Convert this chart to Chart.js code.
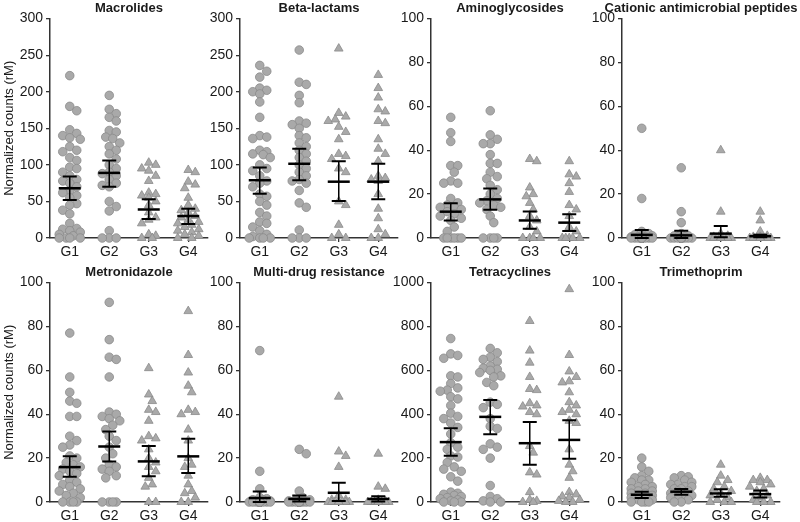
<!DOCTYPE html>
<html lang="en">
<head>
<meta charset="UTF-8">
<title>Normalized counts by resistance class</title>
<script src="https://cdn.jsdelivr.net/npm/chart.js@4"></script>
<style>
  body { margin: 0; width: 800px; height: 522px; overflow: hidden; background: #fff; position: relative; }
  canvas { position: absolute; }
</style>
</head>
<body>
<canvas id="c0" width="228" height="264" style="left:0px;top:0px"></canvas>
<canvas id="c1" width="228" height="264" style="left:190px;top:0px"></canvas>
<canvas id="c2" width="228" height="264" style="left:381px;top:0px"></canvas>
<canvas id="c3" width="228" height="264" style="left:572px;top:0px"></canvas>
<canvas id="c4" width="228" height="264" style="left:0px;top:264px"></canvas>
<canvas id="c5" width="228" height="264" style="left:190px;top:264px"></canvas>
<canvas id="c6" width="228" height="264" style="left:381px;top:264px"></canvas>
<canvas id="c7" width="228" height="264" style="left:572px;top:264px"></canvas>
<script>
const groups = ['G1', 'G2', 'G3', 'G4'];
const titles = ['Macrolides', 'Beta-lactams', 'Aminoglycosides', 'Cationic antimicrobial peptides',
                'Metronidazole', 'Multi-drug resistance', 'Tetracyclines', 'Trimethoprim'];
const yMax = [300, 300, 100, 100, 100, 100, 1000, 100];
const yStep = [50, 50, 20, 20, 20, 20, 200, 20];

// per-sample values, one list per group (G1..G4)
const macrolides = [
  [222, 180, 174, 148, 143, 140, 137, 135, 125, 120, 118, 110, 106, 97, 95, 90, 85, 80, 78, 75, 70, 65, 62, 58, 55, 47, 45, 38, 33, 20, 13, 12, 10, 8, 5, 3, 0, 0, 0, 0],
  [195, 176, 170, 165, 160, 147, 145, 138, 136, 130, 125, 120, 115, 108, 100, 95, 90, 88, 85, 80, 75, 72, 70, 50, 43, 37, 10, 0, 0, 0],
  [103, 100, 95, 92, 85, 78, 62, 60, 58, 55, 50, 45, 35, 28, 25, 20, 5, 3, 0, 0],
  [93, 90, 77, 73, 68, 55, 45, 40, 38, 35, 30, 28, 25, 22, 20, 18, 15, 12, 10, 8, 5, 3, 0, 0]
];
const macrolidesMean = [68, 89, 39, 30];
const macrolidesLow = [52, 70, 26, 19];
const macrolidesHigh = [84, 106, 53, 40];

const betaLactams = [
  [236, 228, 220, 205, 202, 200, 197, 186, 165, 140, 138, 136, 120, 118, 115, 114, 110, 100, 95, 92, 85, 78, 75, 70, 60, 57, 50, 45, 35, 30, 22, 20, 15, 10, 5, 2, 0, 0, 0, 0],
  [257, 213, 210, 195, 185, 160, 157, 155, 150, 140, 137, 130, 125, 120, 115, 110, 105, 100, 95, 90, 85, 80, 78, 75, 65, 48, 42, 11, 0, 0, 0],
  [259, 171, 166, 162, 160, 152, 145, 135, 115, 112, 108, 95, 90, 50, 45, 18, 5, 0, 0],
  [223, 205, 192, 176, 173, 160, 157, 135, 122, 115, 105, 85, 82, 80, 78, 60, 40, 27, 12, 5, 0, 0]
];
const betaLactamsMean = [79, 101.5, 77, 77];
const betaLactamsLow = [60.5, 79, 50.5, 53];
const betaLactamsHigh = [96.5, 122, 105, 101.5];

const aminoglycosides = [
  [55, 48, 44, 33, 33, 30, 26, 25, 25, 18, 16, 15, 14, 14, 13, 12, 11, 10, 9, 8, 5, 3, 0, 0, 0, 0, 0, 0],
  [58, 47, 45, 43, 43, 38, 34, 34, 30, 28, 27, 24, 22, 20, 18, 17, 16, 15, 14, 13, 10, 7, 0, 0, 0, 0],
  [36, 35, 23, 20, 19, 16, 13, 10, 8, 5, 3, 0, 0, 0, 0],
  [35, 29, 28, 25, 21, 15, 13, 10, 5, 3, 0, 0, 0, 0, 0]
];
const aminoglycosidesMean = [12, 17.6, 8, 7];
const aminoglycosidesLow = [8, 12.9, 4.2, 3.2];
const aminoglycosidesHigh = [15.8, 22.6, 12.1, 10.8];

const cationic = [
  [50, 18, 3, 2, 1.5, 1, 1, 0.5, 0.5, 0.5, 0, 0, 0, 0, 0, 0, 0, 0, 0, 0, 0, 0, 0, 0, 0, 0, 0, 0, 0, 0, 0, 0, 0, 0, 0, 0],
  [32, 12, 7, 2, 1, 1, 0.5, 0.5, 0, 0, 0, 0, 0, 0, 0, 0, 0, 0, 0, 0, 0, 0, 0, 0, 0, 0, 0, 0],
  [40, 12, 2, 1, 0.5, 0, 0, 0, 0, 0, 0, 0, 0, 0, 0, 0, 0, 0],
  [12, 8, 3, 1, 0.5, 0.5, 0, 0, 0, 0, 0, 0, 0, 0, 0, 0, 0, 0, 0, 0]
];
const cationicMean = [1.4, 1.2, 2, 0.8];
const cationicLow = [0, 0, 0.3, 0.3];
const cationicHigh = [3.6, 3.3, 5.5, 1.5];

const metronidazole = [
  [77, 57, 50, 46, 45, 39, 39, 30, 28, 26, 25, 21, 20, 18, 17, 16, 15, 14, 13, 12, 10, 9, 8, 7, 6, 5, 4, 3, 2, 0, 0, 0, 0],
  [91, 74, 66, 65, 57, 41, 40, 39, 38, 37, 35, 33, 30, 28, 25, 22, 20, 17, 16, 15, 14, 12, 11, 0, 0, 0, 0],
  [61, 49, 46, 42, 41, 37, 30, 29, 28, 24, 20, 18, 16, 14, 11, 8, 7, 0, 0],
  [87, 67, 59, 53, 50, 42, 41, 40, 33, 28, 20, 17, 16, 12, 8, 5, 4, 2, 0, 0]
];
const metronidazoleMean = [15.9, 25.3, 18.5, 20.8];
const metronidazoleLow = [11.5, 18.5, 11.7, 13.2];
const metronidazoleHigh = [20.9, 32.1, 25.5, 28.8];

const multiDrug = [
  [69, 14, 6, 2, 1.5, 1, 1, 0.5, 0, 0, 0, 0, 0, 0, 0, 0, 0, 0, 0, 0, 0, 0, 0, 0, 0, 0, 0, 0, 0, 0, 0, 0, 0, 0, 0],
  [24, 22, 5, 2, 1, 1, 0.5, 0, 0, 0, 0, 0, 0, 0, 0, 0, 0, 0, 0, 0, 0, 0, 0, 0, 0, 0, 0],
  [48, 23, 21, 16, 3, 1, 1, 0, 0, 0, 0, 0, 0, 0, 0, 0, 0, 0],
  [22, 7, 6, 1, 0.5, 0, 0, 0, 0, 0, 0, 0, 0, 0, 0, 0, 0, 0, 0, 0]
];
const multiDrugMean = [1.8, 1.4, 4.2, 1.4];
const multiDrugLow = [0, 0.2, 0.5, 0.2];
const multiDrugHigh = [4.8, 3, 8.8, 2.6];

const tetracyclines = [
  [745, 675, 668, 655, 575, 570, 540, 520, 510, 505, 480, 470, 440, 405, 390, 380, 360, 340, 310, 270, 250, 240, 210, 205, 180, 160, 150, 140, 115, 95, 45, 40, 35, 30, 25, 20, 15, 10, 5, 0, 0, 0],
  [700, 680, 660, 650, 640, 620, 610, 605, 600, 590, 575, 570, 545, 530, 455, 445, 430, 380, 345, 335, 265, 250, 240, 200, 75, 25, 15, 5, 0, 0],
  [825, 690, 635, 570, 515, 510, 450, 440, 435, 410, 400, 255, 225, 135, 125, 45, 10, 5, 0, 0],
  [970, 670, 595, 570, 550, 545, 500, 455, 440, 420, 410, 400, 370, 360, 240, 170, 140, 110, 45, 35, 25, 20, 10, 5, 0, 0]
];
const tetracyclinesMean = [273, 388, 268, 283];
const tetracyclinesLow = [211, 309, 170, 197];
const tetracyclinesHigh = [336, 465, 365, 373];

const trimethoprim = [
  [20, 16, 14, 12, 11, 10, 10, 9, 8, 7, 7, 6, 6, 5, 5, 4, 4, 3, 3, 2, 2, 1, 1, 0, 0, 0, 0],
  [12, 11.5, 11, 10, 9, 8, 8, 7, 7, 6, 6, 5, 5, 4, 4, 3, 3, 2, 2, 1, 0, 0],
  [17, 12, 10, 9, 7, 6, 5, 4, 3, 2, 1, 0, 0, 0],
  [11, 10, 10, 9, 8, 7, 6, 5, 3, 2, 1, 0, 0, 0]
];
const trimethoprimMean = [3.3, 4.7, 3.9, 3.6];
const trimethoprimLow = [1.8, 3.3, 2.4, 2.1];
const trimethoprimHigh = [4.7, 5.9, 5.8, 5.2];

const panelValues = [macrolides, betaLactams, aminoglycosides, cationic, metronidazole, multiDrug, tetracyclines, trimethoprim];
const panelMean = [macrolidesMean, betaLactamsMean, aminoglycosidesMean, cationicMean, metronidazoleMean, multiDrugMean, tetracyclinesMean, trimethoprimMean];
const panelLow = [macrolidesLow, betaLactamsLow, aminoglycosidesLow, cationicLow, metronidazoleLow, multiDrugLow, tetracyclinesLow, trimethoprimLow];
const panelHigh = [macrolidesHigh, betaLactamsHigh, aminoglycosidesHigh, cationicHigh, metronidazoleHigh, multiDrugHigh, tetracyclinesHigh, trimethoprimHigh];

Chart.defaults.font.family = '"Liberation Sans", Arial, sans-serif';
Chart.defaults.color = '#1a1a1a';

const PLOT_W = 158, PLOT_H = 220;
const OFFSETS = [0, 3.5, -3.5, 7, -7, 10.5, -10.5];

// simple beeswarm: spread points sideways so they don't pile up
function swarm(vals, g, max) {
  const pxY = PLOT_H / max, pxX = PLOT_W / 4;
  const placed = [];
  return vals.map(v => {
    const py = v * pxY;
    let best = 0, bestD = -1;
    for (const off of OFFSETS) {
      let d = Infinity;
      for (const p of placed) d = Math.min(d, Math.hypot(p[0] - off, p[1] - py));
      if (d >= 7) { best = off; break; }
      if (d > bestD) { bestD = d; best = off; }
    }
    placed.push([best, py]);
    return { x: g + 1 + best / pxX, y: v };
  });
}

// mean line + CI whiskers
const errBars = {
  id: 'errbars',
  afterDatasetsDraw(chart, args, opts) {
    const { ctx, scales: { x, y } } = chart;
    ctx.save();
    ctx.strokeStyle = '#000';
    opts.mean.forEach((m, i) => {
      const cx = x.getPixelForValue(i + 1);
      const yl = y.getPixelForValue(opts.low[i]);
      const yh = y.getPixelForValue(opts.high[i]);
      const ym = y.getPixelForValue(m);
      ctx.lineWidth = 1.5;
      ctx.beginPath(); ctx.moveTo(cx, yl); ctx.lineTo(cx, yh); ctx.stroke();
      ctx.lineWidth = 2;
      ctx.beginPath();
      ctx.moveTo(cx - 7, yl); ctx.lineTo(cx + 7, yl);
      ctx.moveTo(cx - 7, yh); ctx.lineTo(cx + 7, yh);
      ctx.stroke();
      ctx.lineWidth = 2.5;
      ctx.beginPath(); ctx.moveTo(cx - 11, ym); ctx.lineTo(cx + 11, ym); ctx.stroke();
    });
    ctx.restore();
  }
};

// panel title centred over the plot area, allowed to run past it
const panelTitle = {
  id: 'panelTitle',
  afterDraw(chart, args, opts) {
    const { ctx, chartArea } = chart;
    ctx.save();
    ctx.font = 'bold 13px "Liberation Sans", Arial, sans-serif';
    ctx.fillStyle = '#1a1a1a';
    ctx.textAlign = 'center';
    ctx.textBaseline = 'middle';
    ctx.fillText(opts.text, (chartArea.left + chartArea.right) / 2, chartArea.top - 10.5);
    ctx.restore();
  }
};

titles.forEach((title, p) => {
  const datasets = panelValues[p].map((vals, g) => ({
    data: swarm(vals, g, yMax[p]),
    pointStyle: g < 2 ? 'circle' : 'triangle',
    pointRadius: g < 2 ? 4.3 : 5,
    backgroundColor: '#a9a9a9',
    borderColor: '#8a8a8a',
    borderWidth: 0.8,
    clip: false
  }));

  new Chart(document.getElementById('c' + p), {
    type: 'scatter',
    data: { datasets },
    options: {
      responsive: false,
      animation: false,
      events: [],
      layout: { padding: { left: 0, right: 20, top: 18.6, bottom: 0 } },
      plugins: {
        legend: { display: false },
        tooltip: { enabled: false },
        panelTitle: { text: title },
        errbars: { mean: panelMean[p], low: panelLow[p], high: panelHigh[p] }
      },
      scales: {
        x: {
          type: 'linear',
          min: 0.5,
          max: 4.5,
          afterBuildTicks: s => { s.ticks = groups.map((_, i) => ({ value: i + 1 })); },
          afterFit: s => { s.height = 26; },
          ticks: { callback: v => groups[v - 1], font: { size: 14 }, color: '#1a1a1a', padding: 2, maxRotation: 0 },
          grid: { drawOnChartArea: false, tickLength: 4, color: '#333', lineWidth: 1.3 },
          border: { color: '#333', width: 1.5 }
        },
        y: {
          min: 0,
          max: yMax[p],
          afterFit: s => { s.width = 50; },
          ticks: { stepSize: yStep[p], callback: v => String(v), font: { size: 14 }, color: '#1a1a1a', padding: 3 },
          grid: { drawOnChartArea: false, tickLength: 4, color: '#333', lineWidth: 1.3 },
          border: { color: '#333', width: 1.5 },
          title: {
            display: p % 4 === 0,
            text: 'Normalized counts (rM)',
            font: { size: 13 },
            color: '#1a1a1a',
            padding: { top: 2, bottom: 0 }
          }
        }
      }
    },
    plugins: [errBars, panelTitle]
  });
});
</script>
</body>
</html>
